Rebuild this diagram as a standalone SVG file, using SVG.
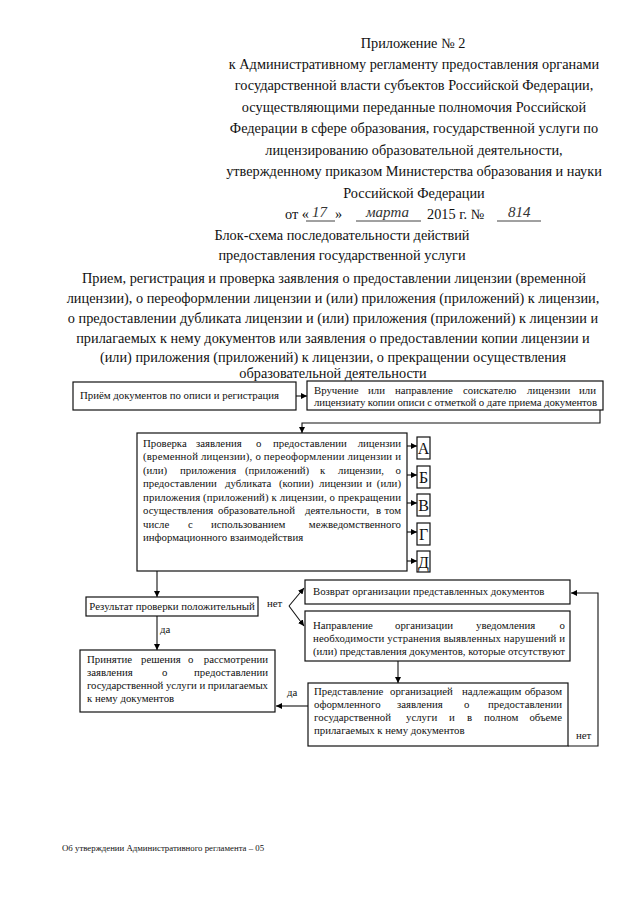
<svg xmlns="http://www.w3.org/2000/svg" width="640" height="905" viewBox="0 0 640 905">
<defs>
<marker id="ah" viewBox="0 0 10 10" refX="10" refY="5" markerWidth="6" markerHeight="6" markerUnits="userSpaceOnUse" orient="auto">
<path d="M0,0 L10,5 L0,10 z" fill="#000"/>
</marker>
<style>
.hd{font-family:"Liberation Serif","Times New Roman",serif;font-size:14.3px;fill:#111;text-anchor:middle}
.hw{font-family:"Liberation Serif",serif;font-style:italic;font-size:15px;fill:#333}
.bx{fill:#fff;stroke:#111;stroke-width:1.2}
.t{font-family:"Liberation Serif","Times New Roman",serif;font-size:10.8px;fill:#111}
.e{text-anchor:end}
.lt{font-family:"Liberation Serif","Times New Roman",serif;font-size:16px;fill:#111;text-anchor:middle}
.ln{fill:none;stroke:#111;stroke-width:1.1}
.ft{font-family:"Liberation Serif","Times New Roman",serif;font-size:8.8px;fill:#111}
</style>
</defs>
<rect width="640" height="905" fill="#fff"/>

<g id="header">
<text class="hd" x="413" y="48">Приложение № 2</text>
<text class="hd" x="414" y="69">к Административному регламенту предоставления органами</text>
<text class="hd" x="414" y="90">государственной власти субъектов Российской Федерации,</text>
<text class="hd" x="414" y="112">осуществляющими переданные полномочия Российской</text>
<text class="hd" x="414" y="133">Федерации в сфере образования, государственной услуги по</text>
<text class="hd" x="414" y="155">лицензированию образовательной деятельности,</text>
<text class="hd" x="414" y="176">утвержденному приказом Министерства образования и науки</text>
<text class="hd" x="414" y="198">Российской Федерации</text>
<text class="hd" x="285" y="219" style="text-anchor:start">от «</text>
<text class="hw" x="312" y="217">17</text>
<text class="hd" x="335" y="219" style="text-anchor:start">»</text>
<text class="hw" x="366" y="217">марта</text>
<text class="hd" x="427" y="219" style="text-anchor:start">2015 г. №</text>
<text class="hw" x="508" y="217">814</text>
<line x1="306" y1="221" x2="335" y2="221" stroke="#111" stroke-width="0.8"/>
<line x1="356" y1="221" x2="421" y2="221" stroke="#111" stroke-width="0.8"/>
<line x1="497" y1="221" x2="541" y2="221" stroke="#111" stroke-width="0.8"/>
<text class="hd" x="342" y="240">Блок-схема последовательности действий</text>
<text class="hd" x="342" y="260">предоставления государственной услуги</text>
<text class="hd" x="334" y="283">Прием, регистрация и проверка заявления о предоставлении лицензии (временной</text>
<text class="hd" x="333" y="303">лицензии), о переоформлении лицензии и (или) приложения (приложений) к лицензии,</text>
<text class="hd" x="333" y="323">о предоставлении дубликата лицензии и (или) приложения (приложений) к лицензии и</text>
<text class="hd" x="333" y="343">прилагаемых к нему документов или заявления о предоставлении копии лицензии и</text>
<text class="hd" x="333" y="362">(или) приложения (приложений) к лицензии, о прекращении  осуществления</text>
<text class="hd" x="333" y="378">образовательной деятельности</text>
</g>

<g id="connectors">
<line class="ln" x1="296" y1="396" x2="307" y2="396" marker-end="url(#ah)"/>
<polyline class="ln" points="600,410 600,423 302,423 302,433" marker-end="url(#ah)"/>
<line class="ln" x1="407" y1="446" x2="417" y2="446" marker-end="url(#ah)"/>
<line class="ln" x1="407" y1="475" x2="417" y2="475" marker-end="url(#ah)"/>
<line class="ln" x1="407" y1="503" x2="417" y2="503" marker-end="url(#ah)"/>
<line class="ln" x1="407" y1="532" x2="417" y2="532" marker-end="url(#ah)"/>
<line class="ln" x1="407" y1="561" x2="417" y2="561" marker-end="url(#ah)"/>
<line class="ln" x1="157" y1="571" x2="157" y2="597" marker-end="url(#ah)"/>
<line class="ln" x1="157" y1="616" x2="157" y2="650" marker-end="url(#ah)"/>
<line class="ln" x1="289" y1="606" x2="304" y2="588" marker-end="url(#ah)"/>
<line class="ln" x1="289" y1="606" x2="304" y2="626" marker-end="url(#ah)"/>
<line class="ln" x1="398" y1="661" x2="398" y2="683" marker-end="url(#ah)"/>
<line class="ln" x1="308" y1="706" x2="276" y2="706" marker-end="url(#ah)"/>
<polyline class="ln" points="568,746 598,746 598,593 571,593" marker-end="url(#ah)"/>
<text class="t" x="267" y="607">нет</text>
<text class="t" x="160" y="633">да</text>
<text class="t" x="287" y="696">да</text>
<text class="t" x="576" y="739">нет</text>
</g>

<g id="n1">
<rect class="bx" x="73" y="382" width="223" height="28"/>
<text class="t" x="80" y="399">Приём документов по описи и регистрация</text>
</g>

<g id="n2">
<rect class="bx" x="307" y="381" width="296" height="29"/>
<text class="t" y="394"><tspan x="314">Вручение</tspan> <tspan x="368">или</tspan> <tspan x="395">направление</tspan> <tspan x="463">соискателю</tspan> <tspan x="527">лицензии</tspan> <tspan x="596" class="e">или</tspan></text>
<text class="t" x="314" y="406" textLength="283" lengthAdjust="spacing">лицензиату копии описи с отметкой о дате приема документов</text>
</g>

<g id="n3">
<rect class="bx" x="137" y="433" width="270" height="138"/>
<text class="t" y="447"><tspan x="143">Проверка</tspan> <tspan x="196">заявления</tspan> <tspan x="256">о</tspan> <tspan x="273">предоставлении</tspan> <tspan x="401" class="e">лицензии</tspan></text>
<text class="t" x="143" y="460" textLength="258" lengthAdjust="spacing">(временной лицензии), о переоформлении лицензии и</text>
<text class="t" y="474"><tspan x="143">(или)</tspan> <tspan x="180">приложения</tspan> <tspan x="245">(приложений)</tspan> <tspan x="320">к</tspan> <tspan x="338">лицензии,</tspan> <tspan x="401" class="e">о</tspan></text>
<text class="t" y="487"><tspan x="143">предоставлении</tspan> <tspan x="225">дубликата</tspan> <tspan x="279">(копии)</tspan> <tspan x="319">лицензии</tspan> <tspan x="366">и</tspan> <tspan x="401" class="e">(или)</tspan></text>
<text class="t" x="143" y="501" textLength="258" lengthAdjust="spacing">приложения (приложений) к лицензии, о прекращении</text>
<text class="t" y="514"><tspan x="143">осуществления</tspan> <tspan x="218">образовательной</tspan> <tspan x="305">деятельности,</tspan> <tspan x="376">в</tspan> <tspan x="401" class="e">том</tspan></text>
<text class="t" y="528"><tspan x="143">числе</tspan> <tspan x="188">с</tspan> <tspan x="211">использованием</tspan> <tspan x="401" class="e">межведомственного</tspan></text>
<text class="t" x="143" y="541">информационного взаимодействия</text>
</g>

<g id="nA"><rect class="bx" x="417" y="437" width="13" height="22"/><text class="lt" x="423.5" y="454">А</text></g>
<g id="nB"><rect class="bx" x="417" y="466" width="13" height="22"/><text class="lt" x="423.5" y="483">Б</text></g>
<g id="nV"><rect class="bx" x="417" y="494" width="13" height="22"/><text class="lt" x="423.5" y="511">В</text></g>
<g id="nG"><rect class="bx" x="417" y="523" width="13" height="22"/><text class="lt" x="423.5" y="540">Г</text></g>
<g id="nD"><rect class="bx" x="417" y="551" width="13" height="21"/><text class="lt" x="423.5" y="568">Д</text></g>

<g id="n4">
<rect class="bx" x="86" y="597" width="172" height="19"/>
<text class="t" x="172" y="610" text-anchor="middle">Результат проверки положительный</text>
</g>

<g id="n5">
<rect class="bx" x="305" y="580" width="265" height="24"/>
<text class="t" x="313" y="595">Возврат организации представленных документов</text>
</g>

<g id="n6">
<rect class="bx" x="305" y="611" width="265" height="50"/>
<text class="t" y="629"><tspan x="313">Направление</tspan> <tspan x="395">организации</tspan> <tspan x="476">уведомления</tspan> <tspan x="565" class="e">о</tspan></text>
<text class="t" x="313" y="642" textLength="252" lengthAdjust="spacing">необходимости устранения выявленных нарушений и</text>
<text class="t" x="313" y="655" textLength="252" lengthAdjust="spacing">(или) представления документов, которые отсутствуют</text>
</g>

<g id="n7">
<rect class="bx" x="80" y="650" width="195" height="62"/>
<text class="t" y="663"><tspan x="87">Принятие</tspan> <tspan x="141">решения</tspan> <tspan x="188">о</tspan> <tspan x="268" class="e">рассмотрении</tspan></text>
<text class="t" y="676"><tspan x="87">заявления</tspan> <tspan x="162">о</tspan> <tspan x="268" class="e">предоставлении</tspan></text>
<text class="t" x="87" y="689" textLength="181" lengthAdjust="spacing">государственной услуги  и прилагаемых</text>
<text class="t" x="87" y="702">к нему документов</text>
</g>

<g id="n8">
<rect class="bx" x="308" y="683" width="260" height="63"/>
<text class="t" y="695"><tspan x="314">Представление</tspan> <tspan x="390">организацией</tspan> <tspan x="462">надлежащим</tspan> <tspan x="562" class="e">образом</tspan></text>
<text class="t" y="708"><tspan x="314">оформленного</tspan> <tspan x="397">заявления</tspan> <tspan x="464">о</tspan> <tspan x="562" class="e">предоставлении</tspan></text>
<text class="t" y="721"><tspan x="314">государственной</tspan> <tspan x="406">услуги</tspan> <tspan x="449">и</tspan> <tspan x="467">в</tspan> <tspan x="484">полном</tspan> <tspan x="562" class="e">объеме</tspan></text>
<text class="t" x="314" y="734">прилагаемых к нему документов</text>
</g>

<g id="footer">
<text class="ft" x="62" y="851">Об утверждении Административного регламента – 05</text>
</g>
</svg>
